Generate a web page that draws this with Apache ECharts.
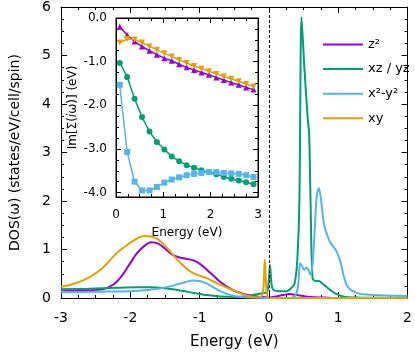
<!DOCTYPE html>
<html lang="en">
<head>
	<meta charset="UTF-8">
	<title>DOS</title>
	<script src="https://cdn.jsdelivr.net/npm/echarts@6/dist/echarts.min.js"></script>
	<style>
		body { margin: 0; background: #fff; }
	</style>
</head>
<body>
	<div id="dosChart" style="width: 415px; height: 355px;"></div>
	<script type="text/javascript">
		// orbital names + colours
		const orbitals = ['z²', 'xz / yz', 'x²-y²', 'xy'];
		const colors = ['#9400d3', '#009e73', '#56b4e9', '#e69f00'];

		// main panel: DOS(w), [energy, dos]
		const z2Dos = [
			[-3, 0.17], [-2.8, 0.16], [-2.6, 0.16], [-2.4, 0.18], [-2.3, 0.23], [-2.2, 0.33], [-2.1, 0.5],
			[-2.0, 0.72], [-1.9, 0.93], [-1.8, 1.07], [-1.7, 1.15], [-1.6, 1.12], [-1.5, 1.02], [-1.4, 0.9],
			[-1.3, 0.84], [-1.2, 0.81], [-1.1, 0.78], [-1.0, 0.71], [-0.9, 0.59], [-0.8, 0.46], [-0.7, 0.33],
			[-0.6, 0.23], [-0.5, 0.15], [-0.4, 0.1], [-0.3, 0.06], [-0.2, 0.04], [-0.1, 0.02], [0, 0.01],
			[0.1, 0.03], [0.2, 0.06], [0.3, 0.08], [0.4, 0.06], [0.5, 0.04], [0.6, 0.02], [0.8, 0.01],
			[1.0, 0.0], [2.0, 0.0]
		];
		const xzDos = [
			[-3, 0.18], [-2.6, 0.19], [-2.2, 0.21], [-1.9, 0.22], [-1.7, 0.22], [-1.5, 0.2], [-1.3, 0.16],
			[-1.1, 0.11], [-0.9, 0.06], [-0.7, 0.03], [-0.5, 0.02], [-0.35, 0.03], [-0.2, 0.07], [-0.1, 0.1],
			[-0.03, 0.12], [0.0, 0.4], [0.015, 0.68], [0.04, 0.25], [0.07, 0.16], [0.15, 0.14], [0.25, 0.14],
			[0.32, 0.2], [0.37, 0.3], [0.41, 0.8], [0.44, 2.05], [0.47, 5.79], [0.51, 4.78], [0.56, 3.69],
			[0.58, 3.4], [0.6, 2.05], [0.63, 0.4], [0.68, 0.35], [0.72, 0.35], [0.77, 0.3], [0.88, 0.17],
			[0.95, 0.1], [1.03, 0.05], [1.1, 0.02], [1.3, 0.01], [2.0, 0.0]
		];
		const x2y2Dos = [
			[-3, 0.12], [-2.5, 0.13], [-2.0, 0.14], [-1.8, 0.16], [-1.6, 0.19], [-1.4, 0.25], [-1.2, 0.33],
			[-1.1, 0.36], [-1.0, 0.35], [-0.9, 0.3], [-0.8, 0.22], [-0.7, 0.14], [-0.6, 0.08], [-0.5, 0.04],
			[-0.4, 0.02], [-0.2, 0.01], [0, 0.0], [0.3, 0.0], [0.38, 0.05], [0.42, 0.25], [0.45, 0.72],
			[0.48, 0.65], [0.51, 0.58], [0.54, 0.63], [0.57, 0.58], [0.6, 0.48], [0.63, 0.7], [0.66, 1.4],
			[0.69, 2.1], [0.72, 2.27], [0.75, 2.05], [0.79, 1.55], [0.84, 1.3], [0.88, 1.16], [0.93, 1.06],
			[0.98, 0.95], [1.03, 0.75], [1.08, 0.45], [1.12, 0.27], [1.17, 0.18], [1.21, 0.14], [1.3, 0.09],
			[1.4, 0.07], [1.7, 0.05], [2.0, 0.04]
		];
		const xyDos = [
			[-3, 0.23], [-2.8, 0.3], [-2.6, 0.42], [-2.4, 0.62], [-2.2, 0.92], [-2.0, 1.14], [-1.9, 1.23],
			[-1.8, 1.28], [-1.7, 1.27], [-1.6, 1.21], [-1.5, 1.08], [-1.4, 0.92], [-1.3, 0.76], [-1.2, 0.62],
			[-1.1, 0.52], [-1.0, 0.46], [-0.9, 0.41], [-0.8, 0.34], [-0.7, 0.27], [-0.6, 0.21], [-0.5, 0.15],
			[-0.4, 0.09], [-0.3, 0.04], [-0.2, 0.015], [-0.12, 0.02], [-0.08, 0.2], [-0.06, 0.79],
			[-0.04, 0.25], [-0.02, 0.02], [0, 0.0], [0.3, 0.0], [2.0, 0.0]
		];

		// inset: Im Sigma(i w_n) on matsubara frequencies
		const matsubara = [0.079, 0.236, 0.393, 0.550, 0.707, 0.864, 1.021, 1.178, 1.335, 1.492,
			1.649, 1.806, 1.963, 2.121, 2.278, 2.435, 2.592, 2.749, 2.906];
		const z2Sigma = [-0.20, -0.39, -0.54, -0.65, -0.75, -0.84, -0.92, -0.98, -1.06, -1.13,
			-1.19, -1.25, -1.30, -1.36, -1.42, -1.48, -1.53, -1.59, -1.64];
		const xzSigma = [-1.03, -1.35, -1.85, -2.27, -2.60, -2.84, -3.01, -3.17, -3.28, -3.37,
			-3.43, -3.49, -3.53, -3.58, -3.64, -3.68, -3.72, -3.76, -3.81];
		const x2y2Sigma = [-1.53, -3.07, -3.75, -3.95, -3.95, -3.87, -3.77, -3.70, -3.65, -3.60,
			-3.57, -3.55, -3.53, -3.53, -3.55, -3.56, -3.57, -3.60, -3.64];
		const xySigma = [-0.56, -0.48, -0.49, -0.56, -0.65, -0.73, -0.81, -0.88, -0.96, -1.03,
			-1.10, -1.16, -1.22, -1.28, -1.34, -1.39, -1.45, -1.51, -1.57];
		const insetSymbols = ['triangle', 'circle', 'rect', 'path://M0,0 L2,0 L1,1.7 Z'];

		const insetMajor = [-4, -3, -2, -1, 0];
		const insetMinor = [];
		for (let v = -4; v < 0; v += 0.25) {
			if (Math.abs(v - Math.round(v)) > 1e-6) insetMinor.push(v);
		}

		const font = 'DejaVu Sans, sans-serif';
		const black = '#000';

		function frameAxis(extra) {
			return Object.assign({
				type: 'value',
				axisLine: { show: true, onZero: false, lineStyle: { color: black, width: 1 } },
				axisTick: { show: true, inside: true, length: 6, lineStyle: { color: black } },
				minorTick: { show: true, splitNumber: 4, length: 3, lineStyle: { color: black } },
				splitLine: { show: false },
				axisLabel: { show: false }
			}, extra);
		}

		const mainLabel = { show: true, color: black, fontSize: 14, fontFamily: font };
		const insetLabel = { show: true, color: black, fontSize: 12, fontFamily: font };

		function insetY(position, values, len, withLabel, withLine) {
			return frameAxis({
				gridIndex: 1, position: position, min: -4.1, max: 0,
				axisLine: { show: withLine, onZero: false, lineStyle: { color: black, width: 1 } },
				axisTick: { show: true, inside: true, length: len, customValues: values, lineStyle: { color: black } },
				minorTick: { show: false },
				axisLabel: withLabel ? Object.assign({ margin: 9, customValues: insetMajor,
					formatter: v => v.toFixed(1) }, insetLabel) : { show: false }
			});
		}

		const chart = echarts.init(document.getElementById('dosChart'));

		const mainSeries = [z2Dos, xzDos, x2y2Dos, xyDos].map((d, i) => ({
			name: orbitals[i],
			type: 'line',
			xAxisIndex: 0, yAxisIndex: 0,
			data: d,
			smooth: 0.3,
			showSymbol: false,
			lineStyle: { color: colors[i], width: 2 },
			itemStyle: { color: colors[i] },
			z: 3
		}));
		mainSeries[0].markLine = {
			silent: true, symbol: 'none', label: { show: false },
			lineStyle: { color: black, type: [3, 2], width: 1 },
			data: [{ xAxis: 0 }]
		};

		const insetSeries = [z2Sigma, xzSigma, x2y2Sigma, xySigma].map((s, i) => ({
			name: orbitals[i] + ' Σ',
			type: 'line',
			xAxisIndex: 2, yAxisIndex: 2,
			data: matsubara.map((w, k) => [w, s[k]]),
			symbol: insetSymbols[i],
			symbolSize: 6,
			lineStyle: { color: colors[i], width: 1.5 },
			itemStyle: { color: colors[i] },
			z: 10
		}));

		chart.setOption({
			animation: false,
			backgroundColor: '#fff',
			textStyle: { fontFamily: font },
			grid: [
				{ left: 54, right: 5, top: 7, bottom: 55 },
				{ left: 116, top: 18, width: 142, height: 179, show: true,
					backgroundColor: '#fff', borderColor: black, borderWidth: 1, z: 5 }
			],
			legend: orbitals.map((n, i) => ({
				data: [n],
				left: 318, top: 33 + i * 24.6,
				icon: 'rect', itemWidth: 40, itemHeight: 2,
				textStyle: { color: black, fontSize: 13, fontFamily: font },
				selectedMode: false
			})),
			xAxis: [
				frameAxis({ gridIndex: 0, position: 'bottom', min: -3, max: 2, interval: 1,
					axisLabel: Object.assign({ margin: 13 }, mainLabel),
					name: 'Energy (eV)', nameLocation: 'middle', nameGap: 37,
					nameTextStyle: { color: black, fontSize: 15, fontFamily: font } }),
				frameAxis({ gridIndex: 0, position: 'top', min: -3, max: 2, interval: 1 }),
				frameAxis({ gridIndex: 1, position: 'bottom', min: 0, max: 3, interval: 1,
					axisTick: { show: true, inside: true, length: 5, lineStyle: { color: black } },
					axisLabel: Object.assign({ margin: 12 }, insetLabel),
					name: 'Energy (eV)', nameLocation: 'middle', nameGap: 30,
					nameTextStyle: { color: black, fontSize: 12, fontFamily: font }, z: 6 }),
				frameAxis({ gridIndex: 1, position: 'top', min: 0, max: 3, interval: 1,
					axisTick: { show: true, inside: true, length: 5, lineStyle: { color: black } }, z: 6 })
			],
			yAxis: [
				frameAxis({ gridIndex: 0, position: 'left', min: 0, max: 6, interval: 1,
					axisLabel: Object.assign({ margin: 10 }, mainLabel),
					name: 'DOS(ω) (states/eV/cell/spin)', nameLocation: 'middle', nameGap: 39,
					nameTextStyle: { color: black, fontSize: 14, fontFamily: font } }),
				frameAxis({ gridIndex: 0, position: 'right', min: 0, max: 6, interval: 1 }),
				Object.assign(insetY('left', insetMajor, 5, true, true), {
					name: 'Im[Σ({it|i}ω)] (eV)', nameLocation: 'middle', nameGap: 37,
					nameTextStyle: { color: black, fontSize: 12, fontFamily: font,
						rich: { it: { fontStyle: 'italic', fontSize: 12, fontFamily: font, color: black } } },
					z: 6 }),
				Object.assign(insetY('right', insetMajor, 5, false, true), { z: 6 }),
				Object.assign(insetY('left', insetMinor, 3, false, false), { z: 6 }),
				Object.assign(insetY('right', insetMinor, 3, false, false), { z: 6 })
			],
			series: mainSeries.concat(insetSeries)
		});
	</script>
</body>
</html>
